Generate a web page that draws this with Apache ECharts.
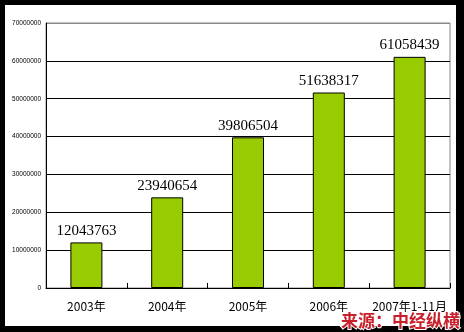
<!DOCTYPE html>
<html>
<head>
<meta charset="utf-8">
<script src="https://cdn.jsdelivr.net/npm/echarts@6/dist/echarts.min.js"></script>
<style>
html,body{margin:0;padding:0;background:#000;}
#c{width:464px;height:332px;}
</style>
</head>
<body>
<div id="c"></div>
<script>
var categories = ['2003年', '2004年', '2005年', '2006年', '2007年1-11月'];
var values = [12043763, 23940654, 39806504, 51638317, 61058439];
var yTicks = [0, 10000000, 20000000, 30000000, 40000000, 50000000, 60000000, 70000000];
var sourceText = '来源：中经纵横';

var chart = echarts.init(document.getElementById('c'), null, {renderer: 'canvas'});
chart.setOption({
  backgroundColor: '#000',
  animation: false,
  graphic: [
    {type: 'rect', shape: {x: 5, y: 5, width: 451, height: 321}, style: {fill: '#fff'}, z: -10},
    {type: 'text', left: 340, top: 311, z: 100,
     style: {text: sourceText, fill: '#c8202a', stroke: '#fff', lineWidth: 2,
             font: 'bold 17px "Noto Sans CJK SC"'}}
  ],
  grid: {left: 46, top: 23, right: 14, bottom: 44, show: true, borderColor: '#888', borderWidth: 1, backgroundColor: 'transparent'},
  xAxis: {
    type: 'category',
    data: categories,
    axisLine: {lineStyle: {color: '#000', width: 1}},
    axisTick: {show: true, inside: true, length: 5, alignWithLabel: false, lineStyle: {color: '#000'}},
    axisLabel: {color: '#000', fontSize: 12, interval: 0, fontFamily: '"Noto Sans CJK SC", sans-serif', margin: 12}
  },
  yAxis: {
    type: 'value',
    min: yTicks[0],
    max: yTicks[yTicks.length - 1],
    interval: 10000000,
    axisLine: {show: true, lineStyle: {color: '#000', width: 1}},
    axisTick: {show: false},
    axisLabel: {color: '#000', fontSize: 6.5, fontFamily: 'Arial, sans-serif', margin: 5,
                formatter: function (v) { return String(v); }},
    splitLine: {show: true, lineStyle: {color: ['#000', '#000', '#000', '#000', '#000', '#000', '#000', '#888'], width: 1}}
  },
  series: [{
    type: 'bar',
    data: values,
    barWidth: 32,
    itemStyle: {color: '#99cc00', borderColor: '#000', borderWidth: 1},
    label: {show: true, position: 'top', distance: 4, color: '#000', fontSize: 15,
            fontFamily: '"Liberation Serif", "Times New Roman", serif'}
  }]
});
</script>
</body>
</html>
